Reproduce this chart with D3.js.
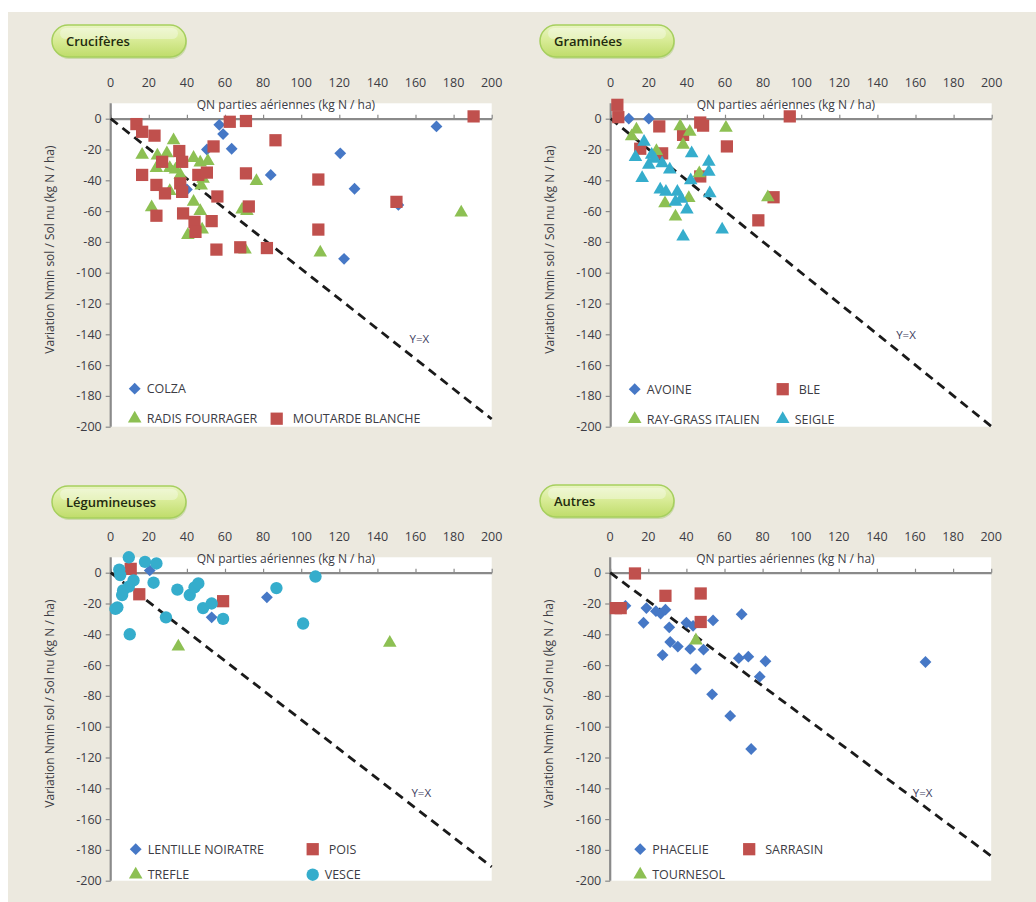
<!DOCTYPE html>
<html><head><meta charset="utf-8">
<script src="https://cdn.jsdelivr.net/npm/d3@7"></script>
<style>
html,body{margin:0;padding:0;background:#fff;}
svg{display:block;font-family:"Open Sans",sans-serif;}
</style></head>
<body><svg id="c" width="1036" height="902"></svg>
<script>
// ---------- DATA ----------
const xTicks = [0,20,40,60,80,100,120,140,160,180,200];
const yTicks = [0,-20,-40,-60,-80,-100,-120,-140,-160,-180,-200];
const panelTitles = ["Crucifères","Graminées","Légumineuses","Autres"];
const xTitle = "QN parties aériennes (kg N / ha)";
const yTitle = "Variation Nmin sol / Sol nu (kg N / ha)";
const refLabel = "Y=X";

// Crucifères
const colza = [[57,-4],[59,-10],[63.5,-19.5],[50.5,-20],[84,-36.5],[120.5,-22.5],[128,-45.5],[171,-5],[151,-56],[40,-46],[122.5,-91]];
const radis = [[33,-14],[16.5,-23.5],[24.5,-24],[29.5,-22.5],[24,-32],[31,-32],[34,-33],[36.5,-36.5],[31,-47],[43.5,-25.5],[47,-28.5],[51,-27.5],[48.5,-39],[47.5,-43.5],[21.5,-57.5],[43.5,-54],[47,-60],[48,-72],[40.5,-75.5],[69,-59],[71.5,-60],[76.5,-40.5],[70.5,-85],[110,-87],[184,-61]];
const moutarde = [[13.5,-3.5],[16.5,-8.5],[23,-11],[16.5,-36.5],[62.5,-2],[71,-1.5],[86.5,-14],[190.5,1.5],[36,-21],[37.5,-28],[27,-28],[24,-43],[28.5,-48.5],[36.5,-42],[37.5,-47.5],[46,-36.5],[50.5,-35],[54,-18],[56,-50.5],[38,-61.5],[44,-67],[53,-66.5],[24,-63],[71,-35.5],[72.5,-57],[109,-39.5],[150,-54],[109,-72],[44.5,-73.5],[55.5,-85],[68,-83.5],[82,-84]];
// Graminées
const avoine = [[9.5,0],[20,0]];
const ble = [[3.5,9],[4,1],[25.5,-5],[47,-2.5],[48.5,-4.5],[38,-10.5],[94,1.5],[61,-18],[15.5,-19.5],[27,-22.5],[47,-37.5],[85.5,-51],[77.5,-66]];
const raygrass = [[13.5,-7],[11,-11.5],[36.5,-5],[41.5,-8.5],[38,-17],[24,-21],[60.5,-6],[46.5,-35.5],[28.5,-55],[41,-51.5],[34,-63.5],[82.5,-51]];
const seigle = [[13,-25],[17.5,-15],[21.5,-23.5],[20,-30],[16.5,-38.5],[27,-29],[31,-33],[42.5,-22.5],[51.5,-28],[51.5,-34.5],[42,-40],[26,-46],[29,-47.5],[35,-47.5],[34,-54],[40,-59],[52,-48.5],[58.5,-72],[38,-76.5],[37,-52],[23,-26]];
// Légumineuses
const lentille = [[20.5,1.5],[53,-29],[82,-16]];
const pois = [[10.5,2.5],[15,-14],[59,-18.5]];
const trefle = [[35.5,-48],[146.5,-45.5]];
const vesce = [[9.5,10],[4.5,2],[5,-1.5],[18,7],[24,6],[22.5,-6.5],[12,-5],[9.5,-9],[6.5,-11.5],[6,-14.5],[3.5,-22.5],[2.5,-23.5],[10,-40],[29,-29],[35,-11],[41.5,-14.5],[44,-9.5],[46,-7],[48.5,-23],[53,-20],[59,-30],[87,-10],[107.5,-2.5],[101,-33]];
// Autres
const phacelie = [[8,-21.5],[19,-23],[17.5,-32.5],[24,-25],[26.5,-26.5],[29,-24],[31,-35.5],[31.5,-45],[27.5,-53.5],[35.5,-48],[40,-32.5],[42,-49.5],[43.5,-34.5],[49,-50],[45,-62.5],[54,-31],[53.5,-79],[63,-93],[69,-27],[67.5,-55.5],[72.5,-54.5],[81.5,-57.5],[78.5,-67.5],[74,-114.5],[165.5,-58]];
const sarrasin = [[3,-23],[5.5,-23],[13,-0.5],[29,-15],[47.5,-13.5],[47.5,-32]];
const tournesol = [[45,-44]];

// dashed reference line end values per panel (start at 0,0)
const refEnds = [[200,-195],[200,-200],[200,-191],[200,-184]];
const refLabelPos = [[162,-143],[155,-140.5],[163,-143],[164,-143]];

// ---------- STYLE / LAYOUT ----------
const COL = {blue:"#4678C6", red:"#C0504D", green:"#8DC053", cyan:"#35ADCC"};
const panels = [
  {ox:110.7, oy:118.7, series:[
    {name:"COLZA", data:colza, shape:"diamond", color:COL.blue, lx:0, ly:0},
    {name:"RADIS FOURRAGER", data:radis, shape:"triangle", color:COL.green, lx:0, ly:1},
    {name:"MOUTARDE BLANCHE", data:moutarde, shape:"square", color:COL.red, lx:1, ly:1}],
   legX:[24,166], legY:[270,300], pill:[52,25]},
  {ox:610.7, oy:118.7, series:[
    {name:"AVOINE", data:avoine, shape:"diamond", color:COL.blue, lx:0, ly:0},
    {name:"BLE", data:ble, shape:"square", color:COL.red, lx:1, ly:0},
    {name:"RAY-GRASS ITALIEN", data:raygrass, shape:"triangle", color:COL.green, lx:0, ly:1},
    {name:"SEIGLE", data:seigle, shape:"triangle", color:COL.cyan, lx:1, ly:1}],
   legX:[24,172], legY:[270.5,300.5], pill:[540,25]},
  {ox:110.7, oy:572.7, series:[
    {name:"LENTILLE NOIRATRE", data:lentille, shape:"diamond", color:COL.blue, lx:0, ly:0},
    {name:"POIS", data:pois, shape:"square", color:COL.red, lx:1, ly:0},
    {name:"TREFLE", data:trefle, shape:"triangle", color:COL.green, lx:0, ly:1},
    {name:"VESCE", data:vesce, shape:"circle", color:COL.cyan, lx:1, ly:1}],
   legX:[25,202], legY:[276.5,302], pill:[52,486]},
  {ox:610.2, oy:572.7, series:[
    {name:"PHACELIE", data:phacelie, shape:"diamond", color:COL.blue, lx:0, ly:0},
    {name:"SARRASIN", data:sarrasin, shape:"square", color:COL.red, lx:1, ly:0},
    {name:"TOURNESOL", data:tournesol, shape:"triangle", color:COL.green, lx:0, ly:1}],
   legX:[30,139], legY:[276.5,302], pill:[540,485]}
];
const legTextDx = [[12,12],[12,14]];

const svg = d3.select("#c");
const defs = svg.append("defs");
const g1 = defs.append("linearGradient").attr("id","pillg").attr("x1",0).attr("y1",0).attr("x2",0).attr("y2",1);
g1.append("stop").attr("offset","0%").attr("stop-color","#e9f4c4");
g1.append("stop").attr("offset","45%").attr("stop-color","#d9ec98");
g1.append("stop").attr("offset","100%").attr("stop-color","#bfdc6a");

// background
svg.append("rect").attr("width",1036).attr("height",902).attr("fill","#fff");
svg.append("rect").attr("x",8).attr("y",12).attr("width",1028).attr("height",890).attr("fill","#ECE9DF");

function symbolPath(shape){
  if(shape==="diamond") return d3.symbol().type(d3.symbolSquare).size(70)();
  if(shape==="square") return d3.symbol().type(d3.symbolSquare).size(150)();
  if(shape==="triangle") return d3.symbol().type(d3.symbolTriangle).size(80)();
  return d3.symbol().type(d3.symbolCircle).size(120)();
}
function symTransform(shape,x,y){
  return `translate(${x},${y})` + (shape==="diamond" ? " rotate(45)" : "");
}

panels.forEach((p,i)=>{
  const W = 381, pxPerUnitY = 1.54;
  const x = d3.scaleLinear().domain([0,200]).range([p.ox, p.ox+W]);
  const y = d3.scaleLinear().domain([0,-200]).range([p.oy, p.oy+200*pxPerUnitY]);
  const g = svg.append("g");

  // plot area
  g.append("rect").attr("x",x(0)).attr("y",y(10)).attr("width",x(200)-x(0)).attr("height",y(-200)-y(10)).attr("fill","#fff");

  // pill header
  const [px,py] = p.pill;
  g.append("rect").attr("x",px+1).attr("y",py+2).attr("width",134).attr("height",32).attr("rx",16).attr("fill","#b8cf8a").attr("opacity",0.6);
  g.append("rect").attr("x",px).attr("y",py).attr("width",134).attr("height",32).attr("rx",16)
    .attr("fill","url(#pillg)").attr("stroke","#a6cf5e").attr("stroke-width",1.5);
  g.append("rect").attr("x",px+8).attr("y",py+3).attr("width",118).attr("height",11).attr("rx",6).attr("fill","#fff").attr("opacity",0.35);
  g.append("text").attr("x",px+14).attr("y",py+20.5).attr("font-size",13).attr("font-weight",600)
    .attr("fill","#1f2a10").text(panelTitles[i]);

  // x axis (line at y=0, labels above plot)
  const ax = g.append("g").attr("transform",`translate(0,${y(0)})`)
    .call(d3.axisTop(x).tickValues(xTicks).tickSize(4).tickSizeOuter(0).tickFormat(""));
  ax.select(".domain").attr("stroke","#8a8a8a").attr("stroke-width",2.2);
  ax.selectAll(".tick line").attr("stroke","#8a8a8a").attr("stroke-width",1.2);
  g.selectAll(".xlab").data(xTicks).join("text")
    .attr("x",d=>x(d)).attr("y",y(0)-32).attr("text-anchor","middle")
    .attr("font-size",12.5).attr("fill","#3c3c44").text(d=>d);
  g.append("text").attr("x",x(92)).attr("y",y(0)-10).attr("text-anchor","middle")
    .attr("font-size",12).attr("fill","#3c3c44").text(xTitle);

  // y axis
  const ay = g.append("g").attr("transform",`translate(${x(0)},0)`)
    .call(d3.axisLeft(y).tickValues(yTicks).tickSize(5).tickSizeOuter(0).tickFormat(d=>String(d).replace("−","-")));
  ay.select(".domain").attr("d",`M0,${y(10)}V${y(-200)}`).attr("stroke","#8a8a8a").attr("stroke-width",2.2);
  ay.selectAll(".tick line").attr("stroke","#8a8a8a").attr("stroke-width",1.2);
  ay.selectAll(".tick text").attr("font-size",12.5).attr("fill","#3c3c44").attr("x",-9)
    .attr("font-family","'Open Sans',sans-serif");
  g.append("text").attr("transform",`translate(${x(0)-57},${y(-85)}) rotate(-90)`)
    .attr("text-anchor","middle").attr("font-size",12).attr("fill","#3c3c44").text(yTitle);

  // reference dashed line
  const re = refEnds[i];
  g.append("line").attr("x1",x(0)).attr("y1",y(0)).attr("x2",x(re[0])).attr("y2",y(re[1]))
    .attr("stroke","#1a1a1a").attr("stroke-width",2.8).attr("stroke-dasharray","9,6");
  const rl = refLabelPos[i];
  g.append("text").attr("x",x(rl[0])).attr("y",y(rl[1])+4).attr("text-anchor","middle")
    .attr("font-size",11.5).attr("fill","#404060").text(refLabel);

  // series
  p.series.forEach(s=>{
    const path = symbolPath(s.shape);
    g.append("g").selectAll("path").data(s.data).join("path")
      .attr("d",path).attr("transform",d=>symTransform(s.shape,x(d[0]),y(d[1])))
      .attr("fill",s.color);
  });

  // legend
  p.series.forEach(s=>{
    const lx = x(0)+p.legX[s.lx], ly = y(0)+p.legY[s.ly];
    g.append("path").attr("d",symbolPath(s.shape)).attr("transform",symTransform(s.shape,lx,ly)).attr("fill",s.color);
    g.append("text").attr("x",lx+legTextDx[s.lx][0]+(s.shape==="square"?4:0)).attr("y",ly+4.5)
      .attr("font-size",12.5).attr("fill","#3c3c44").text(s.name);
  });
});
</script></body></html>
